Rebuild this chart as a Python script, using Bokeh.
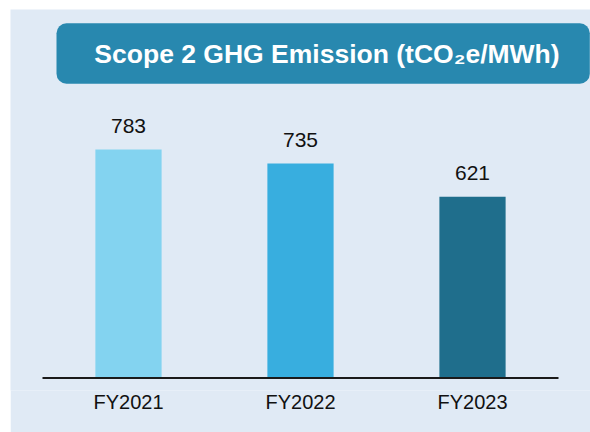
from bokeh.plotting import figure
from bokeh.models import FactorRange, Range1d, ColumnDataSource, BoxAnnotation, Label
from bokeh.core.properties import value
from bokeh.embed import file_html
from bokeh.resources import INLINE

# ---- data ----
years = ["FY2021", "FY2022", "FY2023"]
emissions = [783, 735, 621]
bar_colors = ["#83D3F0", "#38AEDF", "#1F6E8C"]
title_text = "Scope 2 GHG Emission (tCO\u2082e/MWh)"

BG = "#E0EAF5"
FONT = "Liberation Sans"

src = ColumnDataSource(dict(year=years, val=emissions, color=bar_colors,
                            label=[str(v) for v in emissions]))

p = figure(
    width=580, height=423,
    x_range=FactorRange(*years, range_padding=0.124),
    y_range=Range1d(-43, 1263),
    output_backend="svg", toolbar_location=None,
    y_axis_location=None,
    min_border_left=0, min_border_right=0, min_border_top=0, min_border_bottom=42,
    margin=(9, 0, 0, 10),
)
p.background_fill_color = BG
p.border_fill_color = BG
p.outline_line_color = None
p.grid.grid_line_color = None

p.vbar(x="year", top="val", bottom=0, width=0.385, color="color", line_color=None, source=src)

# baseline axis line spanning the categories
p.segment(x0=[0], y0=[0], x1=[len(years)], y1=[0], line_color="#1a1a1a", line_width=2)

p.text(x="year", y="val", text="label", source=src,
       text_align="center", text_baseline="alphabetic", y_offset=-24,
       text_font=value(FONT), text_font_size="21px", text_color="#111111")

ax = p.xaxis[0]
ax.axis_line_color = None
ax.major_tick_line_color = None
ax.minor_tick_line_color = None
ax.major_tick_out = 0
ax.major_label_standoff = 0
ax.major_label_text_font = FONT
ax.major_label_text_font_size = "20px"
ax.major_label_text_color = "#111111"

# title box
box = BoxAnnotation(left=46, right=579.3, top=367.3, bottom=306.7,
                    left_units="screen", right_units="screen",
                    top_units="screen", bottom_units="screen",
                    fill_color="#2888AF", fill_alpha=1.0, line_color=None,
                    border_radius=10)
p.add_layout(box)

lbl = Label(x=316.5, y=337, x_units="screen", y_units="screen", text=title_text,
            text_align="center", text_baseline="middle",
            text_font=FONT, text_font_style="bold", text_font_size="26.5px",
            text_color="white")
p.add_layout(lbl)

open("out.html", "w").write(file_html(p, INLINE))
